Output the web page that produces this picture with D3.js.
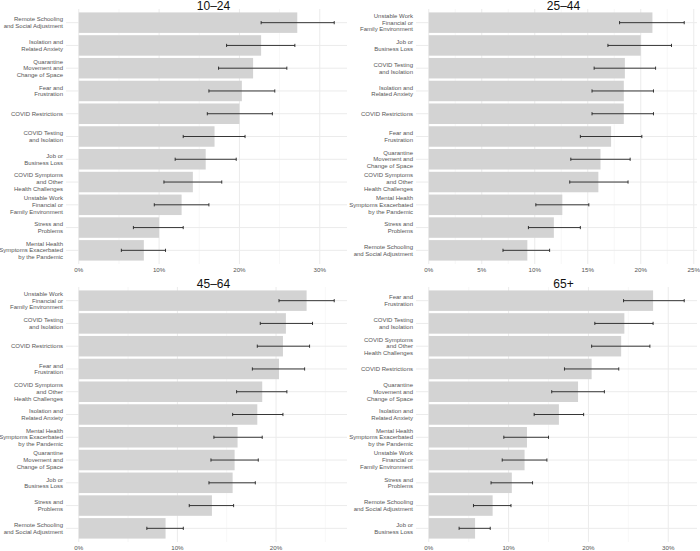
<!DOCTYPE html>
<html>
<head>
<meta charset="utf-8">
<script src="https://cdn.jsdelivr.net/npm/d3@7"></script>
<style>
  body { margin: 0; background: #fff; }
  svg { display: block; font-family: "Liberation Sans", Arial, sans-serif; }
</style>
</head>
<body>
<svg></svg>
<script>
// Category labels (line breaks as in the picture)
const REMOTE = "Remote Schooling\nand Social Adjustment";
const ISOL = "Isolation and\nRelated Anxiety";
const QUAR = "Quarantine\nMovement and\nChange of Space";
const FEAR = "Fear and\nFrustration";
const RESTR = "COVID Restrictions";
const TEST = "COVID Testing\nand Isolation";
const JOB = "Job or\nBusiness Loss";
const SYMPT = "COVID Symptoms\nand Other\nHealth Challenges";
const WORK = "Unstable Work\nFinancial or\nFamily Environment";
const STRESS = "Stress and\nProblems";
const MENTAL = "Mental Health\nSymptoms Exacerbated\nby the Pandemic";

// 10-24
const cats1024 = [REMOTE, ISOL, QUAR, FEAR, RESTR, TEST, JOB, SYMPT, WORK, STRESS, MENTAL];
const val1024  = [27.2, 22.7, 21.7, 20.3, 20.0, 16.9, 15.8, 14.2, 12.8, 10.0, 8.1];
const lo1024   = [22.7, 18.4, 17.4, 16.2, 16.0, 13.0, 12.0, 10.6, 9.4, 6.8, 5.3];
const hi1024   = [31.8, 26.9, 25.9, 24.4, 24.1, 20.7, 19.6, 17.8, 16.2, 13.0, 10.8];
const ticks1024 = [0, 10, 20, 30];

// 25-44
const cats2544 = [WORK, JOB, TEST, ISOL, RESTR, FEAR, QUAR, SYMPT, MENTAL, STRESS, REMOTE];
const val2544  = [21.1, 20.0, 18.5, 18.4, 18.4, 17.2, 16.2, 16.0, 12.6, 11.8, 9.3];
const lo2544   = [18.0, 16.9, 15.6, 15.4, 15.4, 14.3, 13.4, 13.3, 10.1, 9.4, 7.0];
const hi2544   = [24.1, 22.9, 21.4, 21.2, 21.2, 20.1, 19.0, 18.8, 15.1, 14.3, 11.4];
const ticks2544 = [0, 5, 10, 15, 20, 25];

// 45-64
const cats4564 = [WORK, TEST, RESTR, FEAR, SYMPT, ISOL, MENTAL, QUAR, JOB, STRESS, REMOTE];
const val4564  = [23.1, 21.0, 20.7, 20.3, 18.6, 18.1, 16.1, 15.8, 15.6, 13.5, 8.8];
const lo4564   = [20.3, 18.4, 18.1, 17.6, 16.0, 15.6, 13.7, 13.4, 13.2, 11.2, 6.9];
const hi4564   = [25.9, 23.7, 23.4, 22.9, 21.1, 20.7, 18.6, 18.2, 17.9, 15.7, 10.6];
const ticks4564 = [0, 10, 20];

// 65+
const cats65 = [FEAR, TEST, SYMPT, RESTR, QUAR, ISOL, MENTAL, WORK, STRESS, REMOTE, JOB];
const val65  = [28.1, 24.5, 24.1, 20.4, 18.7, 16.3, 12.3, 12.0, 10.4, 8.0, 5.8];
const lo65   = [24.4, 20.8, 20.4, 17.0, 15.4, 13.2, 9.4, 9.2, 7.8, 5.6, 3.8];
const hi65   = [32.0, 28.1, 27.7, 23.8, 22.0, 19.4, 15.0, 14.8, 13.0, 10.3, 7.7];
const ticks65 = [0, 10, 20, 30];

const titles = ["10\u201324", "25\u201344", "45\u201364", "65+"];

const width = 700, height = 551;
const svg = d3.select("svg").attr("width", width).attr("height", height);

// panel boxes [left, top, right, bottom]
const boxes = [
  [66, 9, 347, 264],
  [416, 9, 697, 264],
  [66, 287, 347, 542],
  [416, 287, 697, 542]
];

const panels = [
  { cats: cats1024, val: val1024, lo: lo1024, hi: hi1024, ticks: ticks1024 },
  { cats: cats2544, val: val2544, lo: lo2544, hi: hi2544, ticks: ticks2544 },
  { cats: cats4564, val: val4564, lo: lo4564, hi: hi4564, ticks: ticks4564 },
  { cats: cats65, val: val65, lo: lo65, hi: hi65, ticks: ticks65 }
];

panels.forEach((p, k) => {
  const [l, t, r, b] = boxes[k];
  const data = p.cats.map((c, i) => ({ cat: c, v: p.val[i], lo: p.lo[i], hi: p.hi[i] }));
  const maxV = d3.max(data, d => d.hi);

  // ggplot-like 5% expansion
  const x = d3.scaleLinear().domain([-0.05 * maxV, 1.05 * maxV]).range([l, r]);
  const y = d3.scaleBand().domain(p.cats).range([t, b]).paddingInner(0).paddingOuter(0.1);
  const yc = d => y(d) + y.bandwidth() / 2;
  const barH = y.bandwidth() * 0.9;

  const g = svg.append("g");

  // minor gridlines
  const step = p.ticks[1] - p.ticks[0];
  const minor = d3.range(p.ticks[0] - step / 2, x.domain()[1], step).filter(m => m > x.domain()[0]);
  g.selectAll(".minor").data(minor).join("line")
    .attr("x1", d => x(d)).attr("x2", d => x(d))
    .attr("y1", t).attr("y2", b)
    .attr("stroke", "#f2f2f2").attr("stroke-width", 0.6);

  // major gridlines
  g.selectAll(".vmajor").data(p.ticks).join("line")
    .attr("x1", d => x(d)).attr("x2", d => x(d))
    .attr("y1", t).attr("y2", b)
    .attr("stroke", "#ebebeb").attr("stroke-width", 1);
  g.selectAll(".hmajor").data(p.cats).join("line")
    .attr("x1", l).attr("x2", r)
    .attr("y1", d => yc(d)).attr("y2", d => yc(d))
    .attr("stroke", "#ebebeb").attr("stroke-width", 1);

  // bars
  g.selectAll(".bar").data(data).join("rect")
    .attr("x", x(0))
    .attr("y", d => yc(d.cat) - barH / 2)
    .attr("width", d => x(d.v) - x(0))
    .attr("height", barH)
    .attr("fill", "#d3d3d3");

  // error bars
  const eb = g.selectAll(".eb").data(data).join("g").attr("stroke", "#222").attr("stroke-width", 0.9);
  eb.append("line")
    .attr("x1", d => x(d.lo)).attr("x2", d => x(d.hi))
    .attr("y1", d => yc(d.cat)).attr("y2", d => yc(d.cat));
  eb.append("line")
    .attr("x1", d => x(d.lo)).attr("x2", d => x(d.lo))
    .attr("y1", d => yc(d.cat) - 1.6).attr("y2", d => yc(d.cat) + 1.6);
  eb.append("line")
    .attr("x1", d => x(d.hi)).attr("x2", d => x(d.hi))
    .attr("y1", d => yc(d.cat) - 1.6).attr("y2", d => yc(d.cat) + 1.6);

  // category labels
  const lineH = 6.7;
  g.selectAll(".lab").data(p.cats).join("text")
    .attr("text-anchor", "end")
    .attr("font-size", "6px")
    .attr("fill", "#555")
    .each(function(d) {
      const lines = d.split("\n");
      const txt = d3.select(this);
      lines.forEach((s, i) => {
        txt.append("tspan")
          .attr("x", l - 3)
          .attr("y", yc(d) + (i - (lines.length - 1) / 2) * lineH + 2.1)
          .text(s);
      });
    });

  // x axis labels
  g.selectAll(".xt").data(p.ticks).join("text")
    .attr("x", d => x(d))
    .attr("y", b + 8)
    .attr("text-anchor", "middle")
    .attr("font-size", "6.2px")
    .attr("fill", "#555")
    .text(d => d + "%");

  // panel title
  svg.append("text")
    .attr("x", (l + r) / 2 + 7)
    .attr("y", t + 1)
    .attr("text-anchor", "middle")
    .attr("font-size", "12px")
    .attr("fill", "#111")
    .text(titles[k]);
});
</script>
</body>
</html>
